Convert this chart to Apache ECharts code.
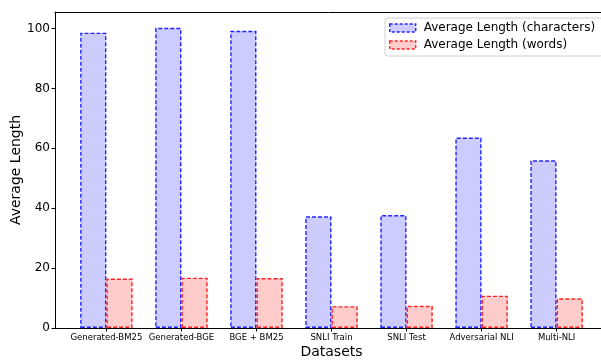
<!DOCTYPE html>
<html>
<head>
<meta charset="utf-8">
<script src="https://cdn.jsdelivr.net/npm/echarts@6/dist/echarts.min.js"></script>
<style>html,body{margin:0;padding:0;background:#fff;}#c{width:601px;height:360px;}</style>
</head>
<body>
<div id="c"></div>
<script>
var categories = ['Generated-BM25', 'Generated-BGE', 'BGE + BM25', 'SNLI Train', 'SNLI Test', 'Adversarial NLI', 'Multi-NLI'];
var charLengths = [98.6, 100.2, 99.2, 37.3, 37.7, 63.6, 56.0];
var wordLengths = [16.5, 16.8, 16.7, 7.3, 7.4, 10.8, 9.9];
var yTicks = [0, 20, 40, 60, 80, 100];
var seriesNames = ['Average Length (characters)', 'Average Length (words)'];

var idx = categories.map(function (_, i) { return i; });
var font = 'DejaVu Sans';
var chart = echarts.init(document.getElementById('c'), null, { renderer: 'canvas' });
chart.setOption({
  animation: false,
  textStyle: { fontFamily: font },
  grid: { left: 55, top: 12, width: 553, height: 316, show: false, outerBoundsMode: 'none', containLabel: false },
  legend: {
    orient: 'vertical', left: 385, top: 18,
    padding: [4, 8, 5, 4], itemGap: 5,
    itemWidth: 26, itemHeight: 8, icon: 'rect',
    itemStyle: { borderType: [3, 2], borderWidth: 1.4 },
    backgroundColor: 'rgba(255,255,255,0.8)',
    borderColor: '#d0d0d0', borderWidth: 1, borderRadius: 3,
    textStyle: { fontFamily: font, fontSize: 12, color: '#000', lineHeight: 12, padding: [0, 0, 0, 3] },
    data: seriesNames
  },
  xAxis: [{
    type: 'value', min: -0.685, max: 6.685, position: 'bottom',
    name: 'Datasets', nameLocation: 'middle', nameGap: 17, nameMoveOverlap: false,
    nameTextStyle: { fontFamily: font, fontSize: 14, color: '#000' },
    axisLine: { show: true, onZero: false, lineStyle: { color: '#000', width: 1 } },
    axisTick: { show: true, length: 3.5, lineStyle: { color: '#000' }, customValues: idx },
    axisLabel: { fontFamily: font, fontSize: 8.5, color: '#000', margin: 5, customValues: idx,
      formatter: function (v) { return categories[Math.round(v)]; } },
    splitLine: { show: false }
  }, {
    type: 'value', min: -0.685, max: 6.685, position: 'top',
    axisLine: { show: true, onZero: false, lineStyle: { color: '#000', width: 1 } },
    axisTick: { show: false }, axisLabel: { show: false }, splitLine: { show: false }
  }],
  yAxis: {
    type: 'value', min: 0, max: 105.5,
    name: 'Average Length', nameLocation: 'middle', nameGap: 32, nameMoveOverlap: false,
    nameTextStyle: { fontFamily: font, fontSize: 14, color: '#000' },
    axisLine: { show: true, onZero: false, lineStyle: { color: '#000', width: 1 } },
    axisTick: { show: true, length: 3.5, lineStyle: { color: '#000' }, customValues: yTicks },
    axisLabel: { fontFamily: font, fontSize: 12, color: '#000', margin: 5, customValues: yTicks },
    splitLine: { show: false }
  },
  series: [
    {
      name: seriesNames[0], type: 'bar', barWidth: 26.25, barGap: '0%',
      data: charLengths.map(function (v, i) { return [i, v]; }),
      itemStyle: { color: 'rgb(204,204,255)', borderColor: 'rgba(0,0,255,0.85)', borderWidth: 1.4, borderType: [4, 2] }
    },
    {
      name: seriesNames[1], type: 'bar', barWidth: 26.25, barGap: '0%',
      data: wordLengths.map(function (v, i) { return [i, v]; }),
      itemStyle: { color: 'rgb(255,204,204)', borderColor: 'rgba(255,0,0,0.85)', borderWidth: 1.4, borderType: [4, 2] }
    }
  ]
});
</script>
</body>
</html>
